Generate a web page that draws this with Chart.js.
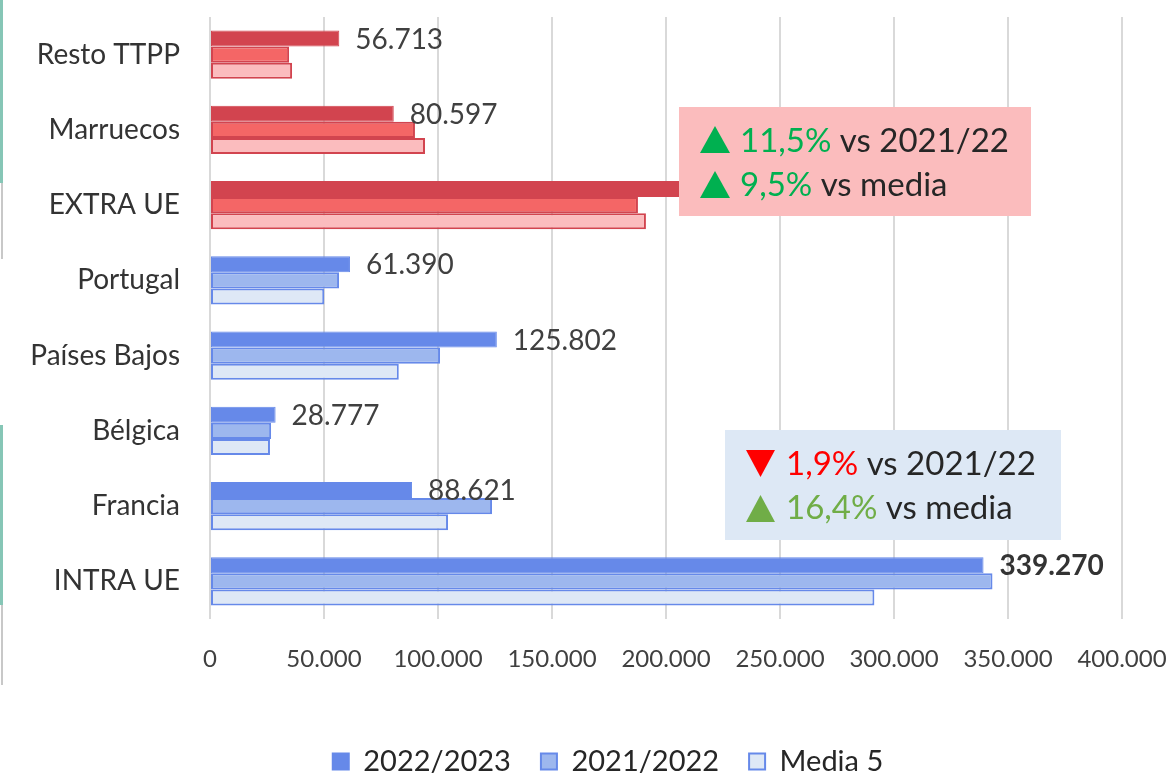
<!DOCTYPE html>
<html lang="es">
<head>
  <meta charset="UTF-8">
  <title>Destinos</title>
  <script src="https://cdn.jsdelivr.net/npm/chart.js"></script>
  <style>
    html, body { margin: 0; padding: 0; background: #fff; }
    #wrap { position: relative; width: 1175px; height: 774px; }
  </style>
</head>
<body>
<div id="wrap"><canvas id="myChart" width="1175" height="774"></canvas></div>

<script>
  // data
  const categories = ['Resto TTPP', 'Marruecos', 'EXTRA UE', 'Portugal', 'Países Bajos', 'Bélgica', 'Francia', 'INTRA UE'];
  const serie2223 = [56713, 80597, 209300, 61390, 125802, 28777, 88621, 339270];
  const serie2122 = [34700, 89900, 187700, 56600, 100900, 26800, 123700, 343200];
  const media5   = [36000, 94300, 191200, 50100, 82800, 26300, 104400, 291400];
  const xTicks = [0, 50000, 100000, 150000, 200000, 250000, 300000, 350000, 400000];
  const seriesNames = ['2022/2023', '2021/2022', 'Media 5'];

  const redCats = 3; // first three categories are EXTRA UE group

  const FONT = 'Lato, Calibri, "Open Sans", sans-serif';

  function fmt(v) {
    return v.toString().replace(/\B(?=(\d{3})+(?!\d))/g, '.');
  }

  function colorsFor(red, blue) {
    return categories.map((c, i) => i < redCats ? red : blue);
  }

  const labelPlugin = {
    id: 'valueLabels',
    afterDatasetsDraw(chart) {
      const ctx = chart.ctx;
      const meta = chart.getDatasetMeta(0);
      ctx.save();
      ctx.textBaseline = 'middle';
      ctx.textAlign = 'left';
      meta.data.forEach((bar, i) => {
        const last = i === categories.length - 1;
        ctx.font = (last ? 'bold ' : '') + '28px ' + FONT;
        ctx.fillStyle = last ? '#333333' : '#404040';
        ctx.fillText(fmt(serie2223[i]), bar.x + 16, bar.y + 1);
      });
      ctx.restore();
    }
  };

  // nudge the legend a bit lower and to the right, like the original
  const legendShift = {
    id: 'legendShift',
    afterLayout(chart) {
      const lg = chart.legend;
      if (!lg) return;
      lg.top += 12; lg.bottom += 12;
      lg.left += 47; lg.right += 47;
    }
  };

  function tri(ctx, x, y, w, h, up, color) {
    ctx.beginPath();
    if (up) {
      ctx.moveTo(x, y + h); ctx.lineTo(x + w / 2, y); ctx.lineTo(x + w, y + h);
    } else {
      ctx.moveTo(x, y); ctx.lineTo(x + w, y); ctx.lineTo(x + w / 2, y + h);
    }
    ctx.closePath();
    ctx.fillStyle = color;
    ctx.fill();
  }

  function richLine(ctx, x, y, parts) {
    parts.forEach(p => {
      ctx.fillStyle = p[1];
      ctx.fillText(p[0], x, y);
      x += ctx.measureText(p[0]).width;
    });
  }

  const boxPlugin = {
    id: 'boxes',
    afterDraw(chart) {
      const ctx = chart.ctx;
      ctx.save();
      // side marks at left edge
      ctx.fillStyle = '#86c6b6';
      ctx.fillRect(0, 0, 3, 183);
      ctx.fillRect(0, 425, 3, 180);
      ctx.fillStyle = '#c8c8c8';
      ctx.fillRect(1, 183, 2, 76);
      ctx.fillRect(1, 605, 2, 80);

      // EXTRA UE box
      ctx.fillStyle = '#fbbcbd';
      ctx.fillRect(679, 107, 352, 109);
      ctx.font = '33px ' + FONT;
      ctx.textBaseline = 'middle';
      tri(ctx, 700, 126, 30, 27, true, '#00b050');
      richLine(ctx, 740, 141, [['11,5%', '#00b050'], [' vs 2021/22', '#262626']]);
      tri(ctx, 700, 171, 30, 27, true, '#00b050');
      richLine(ctx, 740, 185, [['9,5%', '#00b050'], [' vs media', '#262626']]);

      // INTRA UE box
      ctx.fillStyle = '#dde8f5';
      ctx.fillRect(725, 430, 336, 110);
      tri(ctx, 746, 450, 29, 27, false, '#ff0000');
      richLine(ctx, 786, 464, [['1,9%', '#ff0000'], [' vs 2021/22', '#262626']]);
      tri(ctx, 746, 495, 29, 27, true, '#70ad47');
      richLine(ctx, 786, 508, [['16,4%', '#70ad47'], [' vs media', '#262626']]);
      ctx.restore();
    }
  };

  const data = {
    labels: categories,
    datasets: [{
      label: seriesNames[0],
      data: serie2223,
      backgroundColor: colorsFor('#d2444f', '#6689e9'),
      borderColor: colorsFor('#d2444f', '#6689e9'),
      borderWidth: 1
    }, {
      label: seriesNames[1],
      data: serie2122,
      backgroundColor: colorsFor('#f46666', '#9db7ee'),
      borderColor: colorsFor('#d2444f', '#6689e9'),
      borderWidth: 2
    }, {
      label: seriesNames[2],
      data: media5,
      backgroundColor: colorsFor('#fbbcbe', '#dee8f6'),
      borderColor: colorsFor('#d2444f', '#6689e9'),
      borderWidth: 2
    }]
  };

  const config = {
    type: 'bar',
    data: data,
    options: {
      indexAxis: 'y',
      responsive: false,
      animation: false,
      datasets: {
        bar: { categoryPercentage: 0.64, barPercentage: 1.0, borderSkipped: false }
      },
      layout: { padding: { top: 17, right: 53, left: 0, bottom: 0 } },
      plugins: {
        tooltip: { enabled: false },
        legend: {
          position: 'bottom',
          labels: {
            generateLabels(chart) {
              const blues = [['#6689e9', '#6689e9'], ['#9db7ee', '#6689e9'], ['#dee8f6', '#6689e9']];
              return chart.data.datasets.map((ds, i) => ({
                text: ds.label,
                fillStyle: blues[i][0],
                strokeStyle: blues[i][1],
                lineWidth: 2,
                datasetIndex: i,
                fontColor: '#262626'
              }));
            },
            boxWidth: 16,
            boxHeight: 16,
            padding: 30,
            color: '#262626',
            font: { family: FONT, size: 29 }
          }
        }
      },
      scales: {
        x: {
          min: 0,
          max: 400000,
          afterBuildTicks(scale) { scale.ticks = xTicks.map(v => ({ value: v })); },
          afterFit(scale) {
            scale.height = 86;
            scale.paddingLeft = 0;
            scale.paddingRight = 0;
          },
          grid: { color: '#d9d9d9', lineWidth: 2, drawTicks: false },
          border: { display: false },
          ticks: {
            padding: 26,
            color: '#404040',
            font: { family: FONT, size: 24 },
            callback: v => fmt(v)
          }
        },
        y: {
          afterFit(scale) {
            scale.width = 210;
            scale.paddingTop = 0;
            scale.paddingBottom = 0;
          },
          grid: { display: false },
          border: { display: false },
          ticks: {
            padding: 22,
            color: '#333333',
            font: { family: FONT, size: 28 }
          }
        }
      }
    },
    plugins: [labelPlugin, legendShift, boxPlugin]
  };

  const chart = new Chart(document.getElementById('myChart'), config);
</script>
</body>
</html>
